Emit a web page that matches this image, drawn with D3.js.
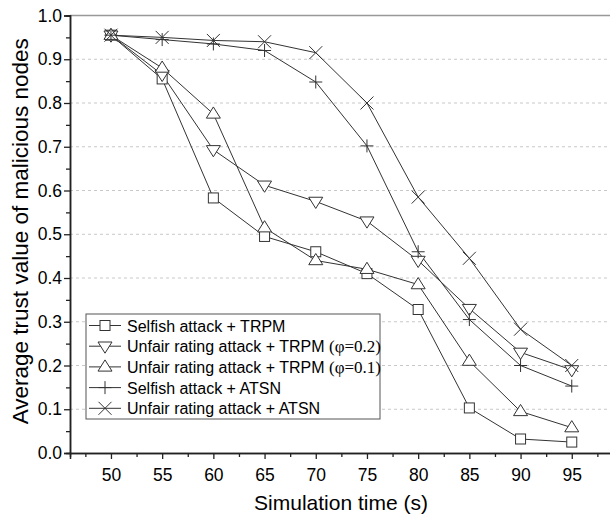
<!DOCTYPE html>
<html>
<head>
<meta charset="utf-8">
<script src="https://cdn.jsdelivr.net/npm/d3@7"></script>
<style>
  body { margin: 0; background: #fff; }
  text { font-family: "Liberation Sans", Arial, sans-serif; fill: #000; }
</style>
</head>
<body>
<div id="chart"></div>
<script>
var times = [50, 55, 60, 65, 70, 75, 80, 85, 90, 95];
var selfishTRPM = [0.955, 0.855, 0.583, 0.495, 0.46, 0.41, 0.328, 0.103, 0.032, 0.025];
var unfairTRPM02 = [0.955, 0.865, 0.693, 0.612, 0.575, 0.53, 0.44, 0.33, 0.23, 0.19];
var unfairTRPM01 = [0.955, 0.88, 0.775, 0.515, 0.44, 0.42, 0.385, 0.21, 0.095, 0.058];
var selfishATSN = [0.955, 0.945, 0.935, 0.92, 0.848, 0.702, 0.46, 0.305, 0.2, 0.153];
var unfairATSN = [0.955, 0.95, 0.943, 0.94, 0.915, 0.80, 0.585, 0.445, 0.283, 0.2];
var xTicks = [50, 55, 60, 65, 70, 75, 80, 85, 90, 95];
var yTicks = [0, 0.1, 0.2, 0.3, 0.4, 0.5, 0.6, 0.7, 0.8, 0.9, 1.0];

var series = [
    {name: "Selfish attack + TRPM", phi: null, values: selfishTRPM, marker: "square"},
    {name: "Unfair rating attack + TRPM ", phi: "(\u03c6=0.2)", values: unfairTRPM02, marker: "down"},
    {name: "Unfair rating attack + TRPM ", phi: "(\u03c6=0.1)", values: unfairTRPM01, marker: "up"},
    {name: "Selfish attack + ATSN", phi: null, values: selfishATSN, marker: "plus"},
    {name: "Unfair rating attack + ATSN", phi: null, values: unfairATSN, marker: "cross"}
];

var width = 610, height = 519;
var margin = {left: 70, top: 15.5, bottom: 66};

var svg = d3.select("#chart").append("svg")
    .attr("width", width).attr("height", height);

var x = d3.scaleLinear().domain([46, 99]).range([margin.left, margin.left + 53 * 10.24]);
var y = d3.scaleLinear().domain([0, 1]).range([height - margin.bottom, margin.top]);

var lineColor = "#333";

// grid lines
svg.append("g").selectAll("line")
    .data(yTicks.filter(function(d){ return d > 0 && d < 1 }))
    .enter().append("line")
    .attr("x1", x(46)).attr("x2", width)
    .attr("y1", function(d){ return y(d) }).attr("y2", function(d){ return y(d) })
    .attr("stroke", "#c8c8c8").attr("stroke-width", 1)
    .attr("stroke-dasharray", "3,3");

// top border
svg.append("line")
    .attr("x1", x(46)).attr("x2", width)
    .attr("y1", y(1)).attr("y2", y(1))
    .attr("stroke", "#999").attr("stroke-width", 1.5);

// axes
svg.append("g")
    .attr("transform", "translate(0," + y(0) + ")")
    .call(d3.axisBottom(x).tickValues(xTicks).tickSize(6).tickPadding(10).tickFormat(d3.format("d")));
svg.append("g")
    .attr("transform", "translate(0," + y(0) + ")")
    .call(d3.axisBottom(x).tickValues(d3.range(47.5, 99, 5)).tickSize(4).tickFormat(""));

svg.append("g")
    .attr("transform", "translate(" + x(46) + ",0)")
    .call(d3.axisLeft(y).tickValues(yTicks).tickSize(6).tickPadding(2).tickFormat(d3.format(".1f")));
svg.append("g")
    .attr("transform", "translate(" + x(46) + ",0)")
    .call(d3.axisLeft(y).tickValues(d3.range(0.05, 1, 0.1)).tickSize(4).tickFormat(""));

svg.selectAll(".domain").attr("stroke", "#222").attr("stroke-width", 1.5);
svg.selectAll(".tick line").attr("stroke", "#222").attr("stroke-width", 1.3);
svg.selectAll(".tick text").style("font-size", "17.5px").style("font-family", "'Liberation Sans', Arial, sans-serif").attr("fill", "#111");

// axis titles
svg.append("text")
    .attr("x", (x(46) + width) / 2 + 1).attr("y", 510)
    .attr("text-anchor", "middle")
    .style("font-size", "21px")
    .text("Simulation time (s)");

svg.append("text")
    .attr("transform", "translate(28," + (y(0.5) - 3) + ") rotate(-90)")
    .attr("text-anchor", "middle")
    .style("font-size", "22.5px")
    .text("Average trust value of malicious nodes");

function drawMarker(g, type, cx, cy) {
    var s;
    if (type === "square") {
        s = 5;
        g.append("rect").attr("x", cx - s).attr("y", cy - s).attr("width", 2 * s).attr("height", 2 * s)
            .attr("fill", "#fff").attr("stroke", lineColor).attr("stroke-width", 1);
    } else if (type === "up") {
        s = 7;
        g.append("path").attr("d", "M" + cx + "," + (cy - s) + "L" + (cx + s) + "," + (cy + s * 0.6) + "L" + (cx - s) + "," + (cy + s * 0.6) + "Z")
            .attr("fill", "#fff").attr("stroke", lineColor).attr("stroke-width", 1);
    } else if (type === "down") {
        s = 7;
        g.append("path").attr("d", "M" + cx + "," + (cy + s) + "L" + (cx + s) + "," + (cy - s * 0.6) + "L" + (cx - s) + "," + (cy - s * 0.6) + "Z")
            .attr("fill", "#fff").attr("stroke", lineColor).attr("stroke-width", 1);
    } else if (type === "plus") {
        s = 6.5;
        g.append("path").attr("d", "M" + (cx - s) + "," + cy + "H" + (cx + s) + "M" + cx + "," + (cy - s) + "V" + (cy + s))
            .attr("fill", "none").attr("stroke", lineColor).attr("stroke-width", 1);
    } else if (type === "cross") {
        s = 6.5;
        g.append("path").attr("d", "M" + (cx - s) + "," + (cy - s) + "L" + (cx + s) + "," + (cy + s) + "M" + (cx + s) + "," + (cy - s) + "L" + (cx - s) + "," + (cy + s))
            .attr("fill", "none").attr("stroke", lineColor).attr("stroke-width", 1);
    }
}

var line = d3.line()
    .x(function(d, i){ return x(times[i]) })
    .y(function(d){ return y(d) });

// lines first, then markers
series.forEach(function(s){
    svg.append("path")
        .datum(s.values)
        .attr("d", line)
        .attr("fill", "none")
        .attr("stroke", lineColor)
        .attr("stroke-width", 1);
});
series.forEach(function(s){
    var g = svg.append("g");
    s.values.forEach(function(v, i){
        drawMarker(g, s.marker, x(times[i]), y(v));
    });
});

// legend
var legend = svg.append("g");
legend.append("rect")
    .attr("x", 86).attr("y", 314).attr("width", 294).attr("height", 105)
    .attr("fill", "#fff").attr("stroke", "#555").attr("stroke-width", 1);

series.forEach(function(s, i){
    var ly = 325.5 + i * 20.7;
    var g = legend.append("g");
    g.append("line").attr("x1", 89).attr("x2", 121).attr("y1", ly).attr("y2", ly)
        .attr("stroke", lineColor).attr("stroke-width", 1);
    drawMarker(g, s.marker, 105, ly);
    var t = g.append("text")
        .attr("x", 127).attr("y", ly + 6)
        .style("font-size", "16px")
        .text(s.name);
    if (s.phi) {
        t.append("tspan")
            .style("font-family", "'Liberation Serif', 'Times New Roman', serif")
            .style("font-size", "17px")
            .text(s.phi);
    }
});
</script>
</body>
</html>
